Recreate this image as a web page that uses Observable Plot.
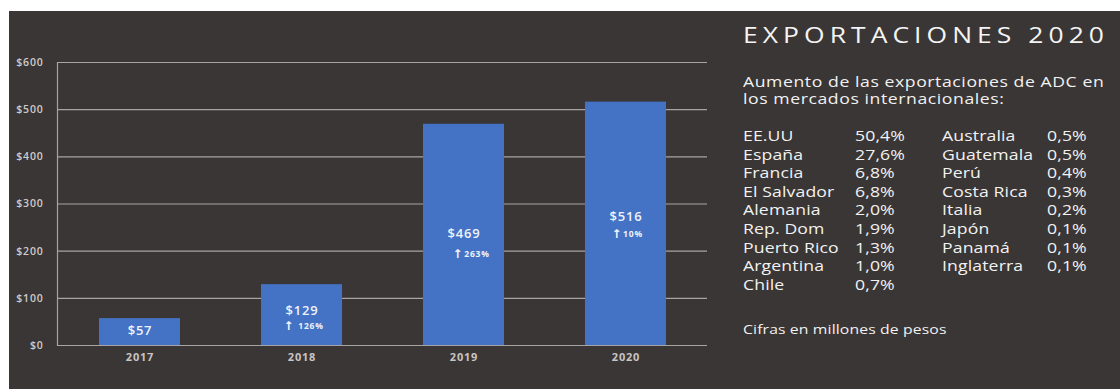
<!DOCTYPE html>
<html><head><meta charset="utf-8">
<script src="https://cdn.jsdelivr.net/npm/d3@7"></script>
<script src="https://cdn.jsdelivr.net/npm/@observablehq/plot@0.6"></script>
<style>
html,body{margin:0;padding:0;background:#fff;width:1120px;height:389px;overflow:hidden;}
#panel{position:absolute;left:9px;top:11px;width:1111px;height:378px;background:#3a3635;font-family:"Open Sans",sans-serif;color:#f2f2f2;}
#chart{position:absolute;left:0;top:0;}
#chart svg text{letter-spacing:0.8px;}
#side{position:absolute;left:734px;top:0;width:300px;height:378px;transform:scaleX(1.26);transform-origin:0 0;}
#title{position:absolute;left:0;top:10px;font-size:21px;letter-spacing:4px;white-space:nowrap;color:#f4f4f4;}
#sub{position:absolute;left:0;top:62px;font-size:14px;line-height:17px;white-space:nowrap;letter-spacing:0.45px;}
.row{position:absolute;font-size:14px;white-space:nowrap;letter-spacing:0.1px;}
#note{position:absolute;left:0;top:310px;font-size:12.5px;white-space:nowrap;letter-spacing:0.1px;}
</style></head>
<body>
<div id="panel"><div id="chart"></div><div id="side">
<div id="title"></div><div id="sub"></div><div id="table"></div><div id="note"></div>
</div></div>
<script>
const years = ["2017","2018","2019","2020"];
const values = [57,129,469,516];
const valueLabels = ["$57","$129","$469","$516"];
const growthLabels = ["","126%","263%","10%"];
const yTicks = [0,100,200,300,400,500,600];
const titleText = "EXPORTACIONES 2020";
const subtitleLines = ["Aumento de las exportaciones  de ADC en","los mercados internacionales:"];
const countriesA = ["EE.UU","España","Francia","El Salvador","Alemania","Rep. Dom","Puerto Rico","Argentina","Chile"];
const sharesA = ["50,4%","27,6%","6,8%","6,8%","2,0%","1,9%","1,3%","1,0%","0,7%"];
const countriesB = ["Australia","Guatemala","Perú","Costa Rica","Italia","Japón","Panamá","Inglaterra"];
const sharesB = ["0,5%","0,5%","0,4%","0,3%","0,2%","0,1%","0,1%","0,1%"];
const noteText = "Cifras en millones de pesos";

const data = years.map((y,i)=>({year:y,value:values[i],label:valueLabels[i],growth:growthLabels[i]}));
const gridColor = "#a8a4a3";
const labelY = {"2017":32,"2018":74,"2019":237,"2020":273};
const growthY = {"2018":40,"2019":193,"2020":235};
const growthDx = {"2018":9,"2019":13,"2020":7};
const arrowDx = {"2018":-13,"2019":-6,"2020":-9};

const growthMarks = data.filter(d=>d.growth).flatMap(d => [
  Plot.text([d], {x: "year", y: growthY[d.year], dx: growthDx[d.year],
    text: "growth", fill: "#eef2fa", fontSize: 8.5, fontWeight: 700}),
  Plot.text([d], {x: "year", y: growthY[d.year], dx: arrowDx[d.year], dy: -0.5,
    text: () => "↑", fill: "#f4f6fb", fontSize: 12, fontWeight: 700, fontFamily: "DejaVu Sans"})
]);

const chart = Plot.plot({
  width: 700, height: 378,
  marginLeft: 48, marginRight: 2, marginTop: 51, marginBottom: 44,
  style: {background:"transparent", fontFamily:"Open Sans, sans-serif"},
  x: {domain: years, paddingInner: 0.5, paddingOuter: 0.25, label: null},
  y: {domain: [0,600], label: null},
  marks: [
    Plot.gridY(yTicks, {stroke: gridColor, strokeOpacity: 1, strokeWidth: 1.2}),
    Plot.frame({anchor: "left", stroke: gridColor, strokeWidth: 1.2}),
    Plot.axisY(yTicks, {tickSize: 0, tickPadding: 14, tickFormat: d => "$" + d, fill: "#cfcbca", fontSize: 10.5, fontWeight: 600}),
    Plot.axisX({tickSize: 0, tickPadding: 8, fill: "#c8c4c3", fontSize: 11, fontWeight: 700}),
    Plot.barY(data, {x: "year", y: "value", fill: "#4472c4"}),
    Plot.text(data, {x: "year", y: d => labelY[d.year],
      text: "label", fill: "#eef2fa", fontSize: 13, fontWeight: 600}),
    ...growthMarks
  ]
});
document.getElementById("chart").appendChild(chart);

document.getElementById("title").textContent = titleText;
document.getElementById("sub").innerHTML = subtitleLines.join("<br>");
const table = document.getElementById("table");
const rowTop = 115, rowH = 18.6, s = 1.26;
function addCell(text, x, i){
  const d = document.createElement("div");
  d.className = "row"; d.textContent = text;
  d.style.left = (x / s) + "px"; d.style.top = (rowTop + i*rowH) + "px";
  table.appendChild(d);
}
countriesA.forEach((c,i)=>{ addCell(c,0,i); addCell(sharesA[i],112,i); });
countriesB.forEach((c,i)=>{ addCell(c,199,i); addCell(sharesB[i],304,i); });
document.getElementById("note").textContent = noteText;
</script>
</body></html>
